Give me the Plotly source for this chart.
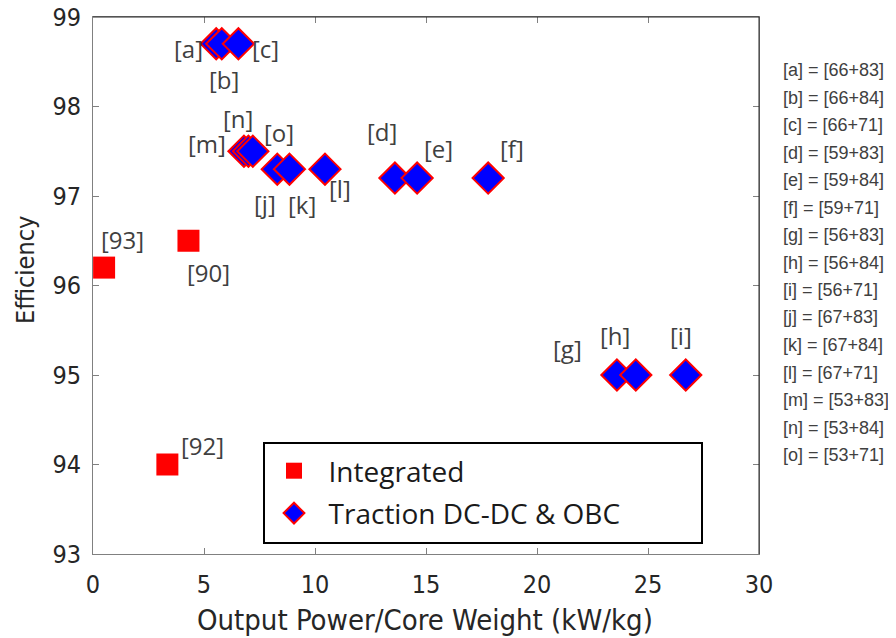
import plotly.graph_objects as go

# ---- data ----
int_x = [0.5, 4.3, 3.35]
int_y = [96.2, 96.5, 94.0]
int_labels = ["[93]", "[90]", "[92]"]

trac_labels = ["[a]", "[b]", "[c]", "[d]", "[e]", "[f]", "[g]", "[h]", "[i]",
               "[j]", "[k]", "[l]", "[m]", "[n]", "[o]"]
trac_x = [5.55, 5.8, 6.55, 13.6, 14.6, 17.8, 23.6, 24.45, 26.7,
          8.3, 8.85, 10.45, 6.8, 7.0, 7.2]
trac_y = [98.7, 98.7, 98.7, 97.2, 97.2, 97.2, 95.0, 95.0, 95.0,
          97.3, 97.3, 97.3, 97.5, 97.5, 97.5]

ref_notes = ["[a] = [66+83]", "[b] = [66+84]", "[c] = [66+71]", "[d] = [59+83]",
             "[e] = [59+84]", "[f] = [59+71]", "[g] = [56+83]", "[h] = [56+84]",
             "[i] = [56+71]", "[j] = [67+83]", "[k] = [67+84]", "[l] = [67+71]",
             "[m] = [53+83]", "[n] = [53+84]", "[o] = [53+71]"]

x_ticks = [0, 5, 10, 15, 20, 25, 30]
y_ticks = [93, 94, 95, 96, 97, 98, 99]

# ---- label offsets (pixels, dx right, dy down) ----
int_off = [(18, -28), (20, 32), (35, -19)]
trac_off = [(-28, 5), (2, 36), (27, 5), (-13, -47), (21, -30), (24, -30),
            (-49, -27), (-21, -40), (-5, -40),
            (-12, 34), (13, 35), (15, 19), (-37, -8), (-10, -33), (26, -19)]

LABEL_FONT = dict(family="Open Sans", size=24, color="#404040")
NARROW = "Liberation Sans Narrow, DejaVu Sans Condensed, Liberation Sans, sans-serif"
REG = "Liberation Sans, Arial, sans-serif"

fig = go.Figure()
fig.add_trace(go.Scatter(
    x=int_x, y=int_y, mode="markers", name="\u00a0\u00a0Integrated", legendgroup="g1",
    marker=dict(symbol="square", size=22, color="#ff0000",
                line=dict(color="#ff0000", width=0)),
))
fig.add_trace(go.Scatter(
    x=trac_x, y=trac_y, mode="markers", name="\u00a0\u00a0Traction DC-DC & OBC",
    legendgroup="g2",
    marker=dict(symbol="diamond", size=24, color="#0000ff",
                line=dict(color="#ff0000", width=2)),
))

annotations = []
for xv, yv, t, (dx, dy) in zip(int_x, int_y, int_labels, int_off):
    annotations.append(dict(x=xv, y=yv, xref="x", yref="y", text=t, showarrow=False,
                            xshift=dx, yshift=-dy, font=LABEL_FONT))
for xv, yv, t, (dx, dy) in zip(trac_x, trac_y, trac_labels, trac_off):
    annotations.append(dict(x=xv, y=yv, xref="x", yref="y", text=t, showarrow=False,
                            xshift=dx, yshift=-dy, font=LABEL_FONT))

# plot area geometry in page pixels (page body has an 8px margin)
OFF = 8
L, R, T, B = 93, 759, 17, 554
W, H = R - L, B - T

def px2paper(px, py):
    return (px - L) / W, (B - py) / H

for i, note in enumerate(ref_notes):
    xp, yp = px2paper(781, 70 + i * 27.5)
    annotations.append(dict(x=xp, y=yp, xref="paper", yref="paper", text=note,
                            showarrow=False, xanchor="left", yanchor="middle",
                            font=dict(family=REG, size=18, color="#404040")))

xp, yp = px2paper(425, 620)
annotations.append(dict(x=xp, y=yp, xref="paper", yref="paper",
                        text="Output Power/Core Weight (kW/kg)", showarrow=False,
                        xanchor="center", yanchor="middle",
                        font=dict(family=NARROW, size=29, color="#262626")))
xp, yp = px2paper(25, 270)
annotations.append(dict(x=xp, y=yp, xref="paper", yref="paper", text="Efficiency",
                        showarrow=False, textangle=-90, xanchor="center", yanchor="middle",
                        font=dict(family=NARROW, size=25, color="#262626")))

# legend box
bx0, by0 = px2paper(264, 543)
bx1, by1 = px2paper(702, 443)
shapes = [
    dict(type="rect", xref="paper", yref="paper", x0=bx0, y0=by0, x1=bx1, y1=by1,
         line=dict(color="black", width=2), fillcolor="white", layer="below"),
    dict(type="line", xref="paper", yref="paper", x0=0, y0=1, x1=1, y1=1,
         line=dict(color="#262626", width=1)),
    dict(type="line", xref="paper", yref="paper", x0=1, y0=0, x1=1, y1=1,
         line=dict(color="#262626", width=1)),
]

lx, ly = px2paper(274, 446)
axis_common = dict(showgrid=False, zeroline=False, showline=True, linecolor="#808080",
                   linewidth=1, mirror="allticks", ticks="inside", ticklen=6,
                   tickcolor="#808080", automargin=False, ticklabeloverflow="allow",
                   tickfont=dict(family=NARROW, size=25, color="#262626"))

fig.update_layout(
    width=896 - OFF, height=638 - OFF,
    margin=dict(l=L - OFF, r=896 - R, t=T - OFF, b=638 - B, pad=0),
    paper_bgcolor="white", plot_bgcolor="rgba(0,0,0,0)",
    xaxis=dict(range=[0, 30], tickvals=x_ticks, ticklabelstandoff=8, **axis_common),
    yaxis=dict(range=[93, 99], tickvals=y_ticks, ticklabelstandoff=6, **axis_common),
    showlegend=True,
    legend=dict(x=lx, y=ly, xanchor="left", yanchor="top", bgcolor="rgba(0,0,0,0)",
                borderwidth=0, font=dict(family="Open Sans", size=28, color="#1a1a1a"),
                tracegroupgap=3),
    annotations=annotations,
    shapes=shapes,
)

fig.write_html("out.html")
